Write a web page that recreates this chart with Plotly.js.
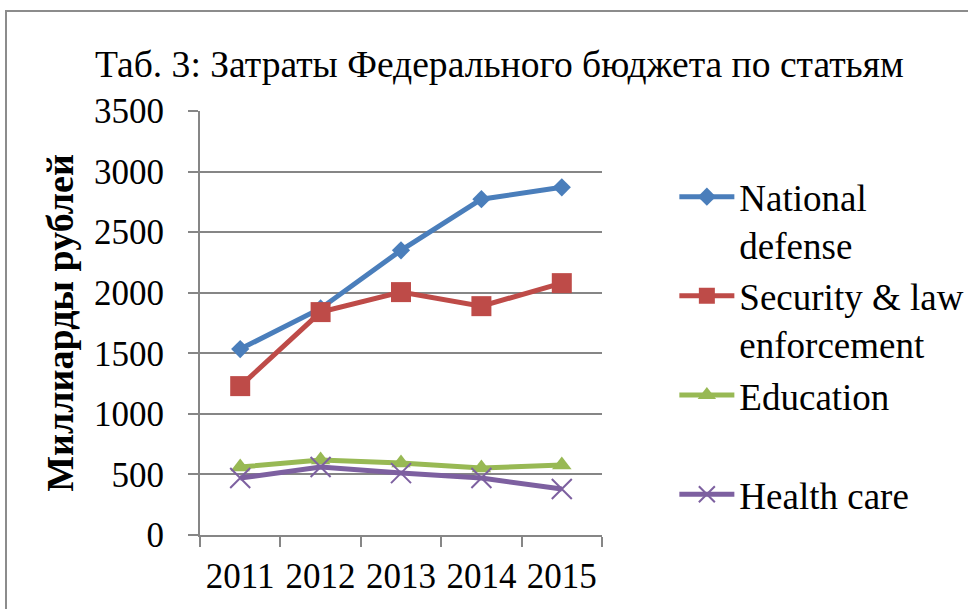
<!DOCTYPE html>
<html>
<head>
<meta charset="utf-8">
<script src="https://cdn.plot.ly/plotly-3.0.1.min.js"></script>
<style>
  html, body { margin: 0; padding: 0; background: #fff; }
  #chart { width: 968px; height: 609px; }
  #frame { position: absolute; left: 5px; top: 10px; width: 1000px; height: 700px;
           border: 2px solid #8c8c8c; pointer-events: none; box-sizing: border-box; }
</style>
</head>
<body>
<div id="chart"></div>
<div id="frame"></div>
<script>
const years = ['2011', '2012', '2013', '2014', '2015'];
const nationalDefense = [1535, 1870, 2350, 2772, 2870];
const securityLaw = [1229, 1840, 2005, 1889, 2079];
const education = [561, 619, 594, 553, 578];
const healthCare = [470, 561, 511, 470, 380];
const seriesNames = ['National<br>defense', 'Security &amp; law<br>enforcement', 'Education<br>&nbsp;', 'Health care<br>&nbsp;'];
const yTicks = [0, 500, 1000, 1500, 2000, 2500, 3000, 3500];

const serif = "'Liberation Serif', 'Times New Roman', serif";

const traces = [
  { x: years, y: nationalDefense, name: seriesNames[0], mode: 'lines+markers',
    line: { color: '#4A7EBB', width: 5 },
    marker: { symbol: 'diamond', size: 14, color: '#4A7EBB' } },
  { x: years, y: securityLaw, name: seriesNames[1], mode: 'lines+markers',
    line: { color: '#BE4B48', width: 5 },
    marker: { symbol: 'square', size: 20, color: '#BE4B48' } },
  { x: years, y: education, name: seriesNames[2], mode: 'lines+markers',
    line: { color: '#98B954', width: 5 },
    marker: { symbol: 'triangle-up', size: 17, color: '#98B954' } },
  { x: years, y: healthCare, name: seriesNames[3], mode: 'lines+markers',
    line: { color: '#7D60A0', width: 5 },
    marker: { symbol: 'x-thin', size: 20, color: '#7D60A0', line: { color: '#7D60A0', width: 2 } } }
];

const layout = {
  width: 968, height: 609,
  margin: { l: 200, r: 366, t: 111, b: 74, autoexpand: false },
  paper_bgcolor: '#fff', plot_bgcolor: '#fff',
  font: { family: serif, color: '#000' },
  title: { text: 'Таб. 3: Затраты Федерального бюджета по статьям',
           font: { family: serif, size: 37.6, color: '#000' },
           xref: 'container', yref: 'container', x: 95 / 968, xanchor: 'left',
           y: 1 - 64 / 609, yanchor: 'middle' },
  xaxis: { type: 'category', range: [-0.5, 4.5], tickson: 'boundaries',
           showgrid: false, showline: true, linecolor: '#868686', linewidth: 2,
           ticks: 'outside', ticklen: 10, tickwidth: 2, tickcolor: '#868686',
           ticklabelstandoff: 9, tickangle: 0, automargin: false,
           tickfont: { family: serif, size: 35, color: '#000' }, fixedrange: true },
  yaxis: { range: [0, 3500], tickvals: yTicks, ticktext: yTicks.map(String),
           showgrid: true, gridcolor: '#868686', gridwidth: 2,
           showline: true, linecolor: '#868686', linewidth: 2,
           ticks: 'outside', ticklen: 10, tickwidth: 2, tickcolor: '#868686',
           zeroline: false, ticklabelstandoff: 17, automargin: false,
           tickfont: { family: serif, size: 35, color: '#000' },
           title: { text: '<b>Миллиарды рублей</b>', font: { family: serif, size: 38, color: '#000' }, standoff: 9 } },
  legend: { x: 1.18, xanchor: 'left', y: 0.87, yanchor: 'top', valign: 'top',
            font: { family: serif, size: 37, color: '#000' }, bgcolor: 'rgba(0,0,0,0)',
            tracegroupgap: 0, itemwidth: 55 },
  showlegend: true
};

Plotly.newPlot('chart', traces, layout, { displayModeBar: false, staticPlot: true });
</script>
</body>
</html>
